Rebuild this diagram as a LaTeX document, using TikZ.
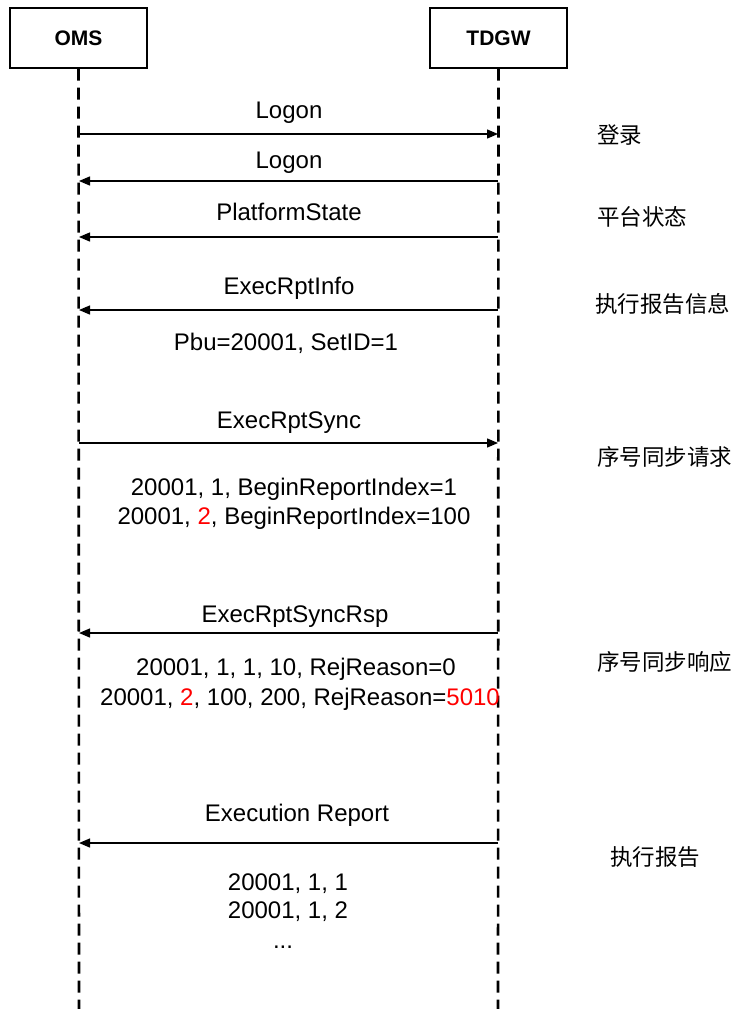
\documentclass[tikz,border=0pt]{standalone}
\usepackage{fontspec}
\setmainfont{Liberation Sans}
\newfontfamily\cjk{Noto Sans CJK SC}
\usetikzlibrary{arrows.meta}
\definecolor{myred}{RGB}{255,0,0}
\begin{document}
\begin{tikzpicture}[x=1pt,y=-1pt,
  actor/.style={draw,line width=1.3pt,minimum width=137pt,minimum height=60pt,inner sep=0pt,font=\fontsize{21}{24}\selectfont\bfseries},
  life/.style={line width=2.6pt,dash pattern=on 12pt off 7pt},
  msg/.style={line width=1.3pt,-{Triangle[length=11pt,width=9pt]}},
  lbl/.style={inner sep=0pt,text height=0.72em,text depth=0pt,font=\fontsize{24}{28}\selectfont},
  note/.style={inner sep=0pt,anchor=west,font=\fontsize{22.5}{26}\selectfont\cjk}]
\useasboundingbox (0,0) rectangle (739,1009);
\fill[white] (0,0) rectangle (739,1009);
% actors
\node[actor] (oms) at (78.5,38) {OMS};
\node[actor] (tdgw) at (498.5,38) {TDGW};
\coordinate (omsend) at (79,1009);
\coordinate (tdgwend) at (498,1009);
\draw[life] (oms.south) -- (omsend);
\draw[life] (tdgw.south) -- (tdgwend);
% message anchors
\foreach \n/\y in {1/134,2/181,3/237,4/310,5/443,6/633,7/843}{
  \coordinate (o\n) at (79,\y);
  \coordinate (t\n) at (498,\y);
}
\draw[msg] (o1) -- (t1);
\draw[msg] (t2) -- (o2);
\draw[msg] (t3) -- (o3);
\draw[msg] (t4) -- (o4);
\draw[msg] (o5) -- (t5);
\draw[msg] (t6) -- (o6);
\draw[msg] (t7) -- (o7);
% labels
\node[lbl] (m1) at (289,115) {Logon};
\node[lbl] (m2) at (289,165) {Logon};
\node[lbl] (m3) at (289,217) {PlatformState};
\node[lbl] (m4) at (289,291) {ExecRptInfo};
\node[lbl] (d4) at (286,347) {Pbu=20001, SetID=1};
\node[lbl] (m5) at (289,425) {ExecRptSync};
\node[lbl] (d5a) at (294,492) {20001, 1, BeginReportIndex=1};
\node[lbl] (d5b) at (294,521) {20001, \textcolor{myred}{2}, BeginReportIndex=100};
\node[lbl] (m6) at (295,619) {ExecRptSyncRsp};
\node[lbl] (d6a) at (296,672) {20001, 1, 1, 10, RejReason=0};
\node[lbl] (d6b) at (300,702) {20001, \textcolor{myred}{2}, 100, 200, RejReason=\textcolor{myred}{5010}};
\node[lbl] (m7) at (297,818) {Execution Report};
\node[lbl] (d7a) at (288,887) {20001, 1, 1};
\node[lbl] (d7b) at (288,915) {20001, 1, 2};
\node[lbl] (d7c) at (283,945) {...};
% notes
\node[note] (n1) at (597,135) {登录};
\node[note] (n2) at (597,217) {平台状态};
\node[note] (n3) at (595,304) {执行报告信息};
\node[note] (n4) at (597,457) {序号同步请求};
\node[note] (n5) at (597,662) {序号同步响应};
\node[note] (n6) at (610,857) {执行报告};
\end{tikzpicture}
\end{document}
